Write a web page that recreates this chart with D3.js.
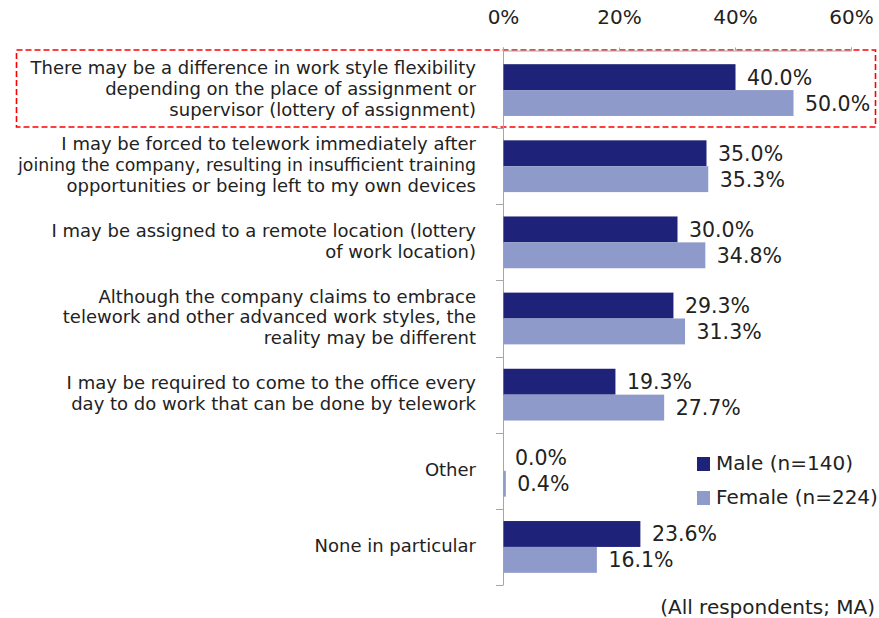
<!DOCTYPE html>
<html>
<head>
<meta charset="utf-8">
<script src="https://cdn.jsdelivr.net/npm/d3@7"></script>
<style>
  body { margin: 0; background: #fff; }
  text { font-family: "DejaVu Sans", Verdana, sans-serif; fill: #222; }
</style>
</head>
<body>
<div id="chart"></div>
<script>
// data
const categories = [
    ["There may be a difference in work style flexibility", "depending on the place of assignment or", "supervisor (lottery of assignment)"],
    ["I may be forced to telework immediately after", "joining the company, resulting in insufficient training", "opportunities or being left to my own devices"],
    ["I may be assigned to a remote location (lottery", "of work location)"],
    ["Although the company claims to embrace", "telework and other advanced work styles, the", "reality may be different"],
    ["I may be required to come to the office every", "day to do work that can be done by telework"],
    ["Other"],
    ["None in particular"]
];
const seriesNames = ["Male (n=140)", "Female (n=224)"];
const maleValues = [40.0, 35.0, 30.0, 29.3, 19.3, 0.0, 23.6];
const femaleValues = [50.0, 35.3, 34.8, 31.3, 27.7, 0.4, 16.1];
const tickValues = [0, 20, 40, 60];
const colors = ["#1f2279", "#8e9aca"];

const width = 879, height = 618;

const svg = d3.select("#chart").append("svg")
    .attr("width", width)
    .attr("height", height);

// scales
const x = d3.scaleLinear().domain([0, 60]).range([503, 851]);
const keys = categories.map((d, i) => i);
const y = d3.scaleBand().domain(keys).range([52, 585]).paddingInner(0.32).paddingOuter(0.16);
const ySub = d3.scaleBand().domain([0, 1]).range([0, y.bandwidth()]);

const rows = keys.map(i => ({ i, lines: categories[i], vals: [maleValues[i], femaleValues[i]] }));

// highlight box around the first item
svg.append("rect")
    .attr("x", 16.5).attr("y", 50)
    .attr("width", 859).attr("height", 77)
    .attr("fill", "none")
    .attr("stroke", "#ff0000")
    .attr("stroke-width", 1.6)
    .attr("stroke-dasharray", "6,3");

// top axis
const xAxis = svg.append("g")
    .attr("transform", "translate(0,50.5)")
    .call(d3.axisTop(x).tickValues(tickValues).tickFormat(d => d + "%").tickSize(3).tickPadding(8));
xAxis.select(".domain").attr("stroke", "#a6a6a6");
xAxis.selectAll(".tick line").attr("stroke", "#a6a6a6");
xAxis.selectAll(".tick text")
    .attr("font-size", 20)
    .attr("font-family", "DejaVu Sans")
    .attr("fill", "#222")
    .attr("y", -26.5)
    .attr("dy", "0");

// left axis line with boundary ticks
const step = y.step();
const boundaries = d3.range(keys.length + 1).map(k => y(0) - y.paddingInner() * step / 2 + k * step);
svg.append("line")
    .attr("x1", 503.5).attr("x2", 503.5)
    .attr("y1", 50).attr("y2", boundaries[boundaries.length - 1])
    .attr("stroke", "#a6a6a6");
svg.selectAll(".btick")
    .data(boundaries.slice(1))
    .enter().append("line")
    .attr("x1", 496).attr("x2", 503.5)
    .attr("y1", d => Math.round(d) + 0.5).attr("y2", d => Math.round(d) + 0.5)
    .attr("stroke", "#a6a6a6");

// bars
const groups = svg.selectAll(".grp")
    .data(rows)
    .enter().append("g")
    .attr("transform", d => `translate(0,${y(d.i)})`);

groups.selectAll("rect")
    .data(d => d.vals.map((v, s) => ({ v, s })))
    .enter().append("rect")
    .attr("x", x(0) + 0.5)
    .attr("y", d => ySub(d.s))
    .attr("width", d => x(d.v) - x(0))
    .attr("height", ySub.bandwidth())
    .attr("fill", d => colors[d.s]);

// value labels
groups.selectAll(".val")
    .data(d => d.vals.map((v, s) => ({ v, s })))
    .enter().append("text")
    .attr("x", d => x(d.v) + 12)
    .attr("y", d => ySub(d.s) + ySub.bandwidth() / 2 + 7.5)
    .attr("font-size", 20.5)
    .text(d => d.v.toFixed(1) + "%");

// category labels (one text per line so a long line can be squeezed)
groups.selectAll(".cat")
    .data(d => d.lines.map((t, k) => ({ t, k, n: d.lines.length })))
    .enter().append("text")
    .attr("text-anchor", "end")
    .attr("font-size", 18)
    .attr("x", 476)
    .attr("y", d => y.bandwidth() / 2 + 5 + (d.k - (d.n - 1) / 2) * 21)
    .text(d => d.t)
    .each(function () {
        if (this.getComputedTextLength() > 458) {
            d3.select(this).attr("textLength", 458).attr("lengthAdjust", "spacingAndGlyphs");
        }
    });

// legend
const legend = svg.append("g");
seriesNames.forEach((name, s) => {
    legend.append("rect")
        .attr("x", 697).attr("y", 457 + s * 34)
        .attr("width", 13).attr("height", 14)
        .attr("fill", colors[s]);
    legend.append("text")
        .attr("x", 716).attr("y", 470 + s * 34)
        .attr("font-size", 20)
        .text(name);
});

// note
svg.append("text")
    .attr("x", 875).attr("y", 614)
    .attr("text-anchor", "end")
    .attr("font-size", 20)
    .text("(All respondents; MA)");
</script>
</body>
</html>
